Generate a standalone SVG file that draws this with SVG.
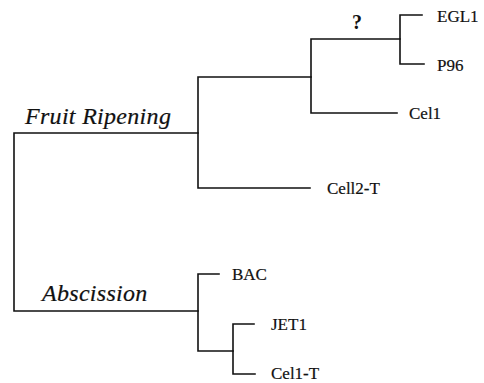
<svg xmlns="http://www.w3.org/2000/svg" width="484" height="383" viewBox="0 0 484 383">
<style>
.br{fill:none;stroke:#111;stroke-width:1.6;stroke-linecap:square}
.lf{font-family:"Liberation Serif","Times New Roman",serif;font-size:17px;fill:#111;stroke:#111;stroke-width:0.2}
.grp{font-family:"Liberation Serif","Times New Roman",serif;font-size:24px;font-style:italic;fill:#111;letter-spacing:0.3px;stroke:#111;stroke-width:0.2}
.q{font-family:"Liberation Serif","Times New Roman",serif;font-size:20px;font-weight:bold;fill:#111}
</style>
<rect width="484" height="383" fill="#fff"/>
<g id="connectors">
<path class="br" d="M198,133 H14 V311 H198"/>
<path class="br" d="M311,77 H198 V188 H310"/>
<path class="br" d="M400,39 H311 V113 H397"/>
<path class="br" d="M422,15 H400 V64 H424"/>
<path class="br" d="M219,274 H198 V351 H233"/>
<path class="br" d="M254,324 H233 V374 H255"/>
</g>
<g id="fruit-ripening"><text class="grp" x="25" y="124">Fruit Ripening</text></g>
<g id="abscission"><text class="grp" x="42" y="301">Abscission</text></g>
<g id="unknown"><text class="q" x="352" y="29">?</text></g>
<g id="EGL1"><text class="lf" x="437" y="22">EGL1</text></g>
<g id="P96"><text class="lf" x="437" y="71">P96</text></g>
<g id="Cel1"><text class="lf" x="409" y="119">Cel1</text></g>
<g id="Cell2-T"><text class="lf" x="327" y="194">Cell2-T</text></g>
<g id="BAC"><text class="lf" x="232" y="280">BAC</text></g>
<g id="JET1"><text class="lf" x="271" y="330">JET1</text></g>
<g id="Cel1-T"><text class="lf" x="271" y="379">Cel1-T</text></g>
</svg>
